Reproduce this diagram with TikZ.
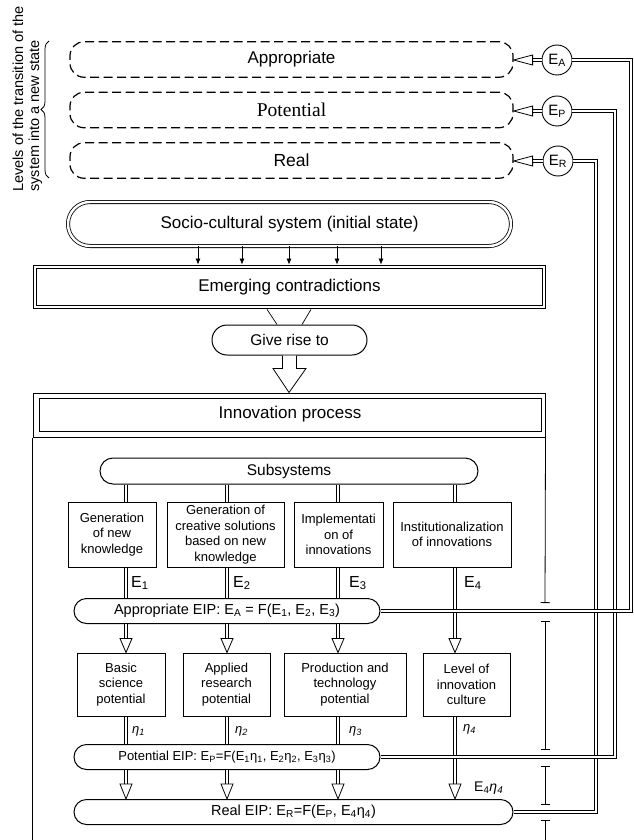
\documentclass[tikz,border=0pt]{standalone}
\usepackage{fontspec}
\setmainfont{Liberation Sans}
\newfontfamily\seriff{Liberation Serif}
\usetikzlibrary{calc,arrows.meta,decorations.pathreplacing}

\newcommand{\holarrow}[4]{%
  \coordinate (hb) at ($(#2)!#3!(#1)$);
  \draw[dbl] (#1) -- (hb);
  \draw[hd] (#2) -- ($(hb)!#4!90:(#2)$) -- ($(hb)!#4!-90:(#2)$) -- cycle;
}

\begin{document}
\begin{tikzpicture}[x=1pt,y=-1pt,
  dsh/.style={draw, line width=1.2pt, dash pattern=on 9pt off 4.5pt, rounded corners=14pt, inner sep=0pt, minimum width=443pt, minimum height=35.5pt},
  circ/.style={draw, circle, line width=0.9pt, minimum size=30pt, inner sep=0pt, font=\fontsize{15}{18}\selectfont},
  dblnode/.style={draw, double, double distance=2.4pt, line width=0.8pt, inner sep=0pt},
  pill/.style={draw, line width=1pt, inner sep=0pt},
  box/.style={draw, line width=1pt, inner sep=0pt, align=center, font=\fontsize{13}{15.5}\selectfont},
  dbl/.style={double, double distance=2.2pt, line width=0.8pt},
  hd/.style={line width=0.8pt, fill=white, line join=miter},
  sarr/.style={line width=0.7pt, -{Latex[length=6pt,width=5pt]}},
  ibeam/.style={line width=0.8pt},
  bigarr/.style={line width=0.8pt, fill=white},
  elbl/.style={anchor=west, inner sep=0pt, font=\fontsize{16}{18}\selectfont},
  etalbl/.style={anchor=west, inner sep=0pt, font=\fontsize{13}{15}\selectfont},
]
\useasboundingbox (0,0) rectangle (634,840);

% ---- levels
\node[dsh] (appr) at (291.5,59.5) {\fontsize{17}{20}\selectfont Appropriate};
\node[dsh] (pot) at (291.5,110) {\seriff\fontsize{19.5}{22}\selectfont Potential};
\node[dsh] (real) at (291.5,160.5) {\fontsize{17.5}{20}\selectfont Real};

\node[circ] (ea) at (557,60) {E\textsubscript{A}};
\node[circ] (ep) at (557,111) {E\textsubscript{P}};
\node[circ] (er) at (558,161) {E\textsubscript{R}};

\draw[line width=0.8pt, decorate, decoration={brace, amplitude=8pt}] (49,178) -- (49,41);
\node[rotate=90, align=left, inner sep=0pt, font=\fontsize{14.5}{16}\selectfont] (lev) at (27.5,99)
  {Levels of the transition of the\\system into a new state};

% ---- top chain
\node[dblnode, minimum width=443pt, minimum height=44pt, rounded corners=22pt] (socio) at (289.5,224)
  {\fontsize{17}{20}\selectfont Socio-cultural system (initial state)};
\node[dblnode, minimum width=509pt, minimum height=40pt] (emer) at (289.5,287)
  {\fontsize{17}{20}\selectfont Emerging contradictions};
\foreach \xx in {198,242,289,337,381}
  \draw[sarr, shorten >=2pt] (\xx,0 |- socio.south) -- (\xx,0 |- emer.north);

\node[pill, minimum width=155pt, minimum height=30pt, rounded corners=15pt] (give) at (289.5,340)
  {\fontsize{15.5}{18}\selectfont Give rise to};
\draw[line width=0.7pt] ($(emer.south)+(-22.5,2)$) -- ($(give.north)+(-12.5,0)$);
\draw[line width=0.7pt] ($(emer.south)+(21.5,2)$) -- ($(give.north)+(12.5,0)$);

% ---- innovation process
\node[draw, line width=1pt, minimum width=512pt, minimum height=44pt, inner sep=0pt] (innoouter) at (289,415) {};
\node[draw, line width=0.6pt, minimum width=502pt, minimum height=33pt, inner sep=0pt] (inno) at (290,414.5)
  {\fontsize{17}{20}\selectfont Innovation process};
\draw[bigarr] ($(give.south)+(-7,0)$) -- ++(0,13) -- ++(-9.5,0) -- (innoouter.north)
  -- ($(give.south)+(16.5,13)$) -- ++(-9.5,0) -- ($(give.south)+(7,0)$);
\draw[line width=0.8pt] (innoouter.south west) -- (innoouter.south west |- 0,840);

\coordinate (t1) at (545,603);
\coordinate (t2) at (545,621);
\coordinate (t3) at (545,750);
\coordinate (t4) at (545,766);
\coordinate (t5) at (545,805);
\coordinate (t6) at (545,820);
\coordinate (t7) at (545,842);
\draw[ibeam, -{Bar[width=9pt]}] (innoouter.south east) -- (t1);
\draw[ibeam, {Bar[width=9pt]}-{Bar[width=9pt]}] (t2) -- (t3);
\draw[ibeam, {Bar[width=9pt]}-{Bar[width=9pt]}] (t4) -- (t5);
\draw[ibeam, {Bar[width=9pt]}-] (t6) -- (t7);

% ---- subsystems
\node[pill, minimum width=378pt, minimum height=26pt, rounded corners=13pt] (sub) at (289,471)
  {\fontsize{15.5}{18}\selectfont Subsystems};

\node[box, minimum width=88pt, minimum height=65pt] (g1) at (112,534.5) {Generation\\of new\\knowledge};
\node[box, minimum width=117pt, minimum height=65pt] (g2) at (225.5,534.5) {Generation of\\creative solutions\\based on new\\knowledge};
\node[box, minimum width=89pt, minimum height=65pt] (g3) at (338.5,534.5) {Implementati\\on of\\innovations};
\node[box, minimum width=118pt, minimum height=65pt] (g4) at (452,534.5) {Institutionalization\\of innovations};

\node[pill, minimum width=306pt, minimum height=25pt, rounded corners=12.5pt] (aeip) at (227,611)
  {\fontsize{14.5}{17}\selectfont Appropriate EIP: E\textsubscript{A} = F(E\textsubscript{1}, E\textsubscript{2}, E\textsubscript{3})};

\node[box, minimum width=88pt, minimum height=63pt] (h1) at (121,684.5) {Basic\\science\\potential};
\node[box, minimum width=87pt, minimum height=63pt] (h2) at (226.5,684.5) {Applied\\research\\potential};
\node[box, minimum width=122pt, minimum height=63pt] (h3) at (345,684.5) {Production and\\technology\\potential};
\node[box, minimum width=87pt, minimum height=63pt] (h4) at (466.5,684.5) {Level of\\innovation\\culture};

\node[pill, minimum width=306pt, minimum height=25pt, rounded corners=12.5pt] (peip) at (227,757)
  {\fontsize{13}{15}\selectfont Potential EIP: E\textsubscript{P}=F(E\textsubscript{1}η\textsubscript{1}, E\textsubscript{2}η\textsubscript{2}, E\textsubscript{3}η\textsubscript{3})};
\node[pill, minimum width=439pt, minimum height=25pt, rounded corners=12.5pt] (reip) at (293.5,812)
  {\fontsize{14.5}{17}\selectfont Real EIP: E\textsubscript{R}=F(E\textsubscript{P}, E\textsubscript{4}η\textsubscript{4})};

% ---- columns
\coordinate (c1) at (126,0);
\coordinate (c2) at (227,0);
\coordinate (c3) at (338,0);
\coordinate (c4) at (455,0);
\foreach \c/\g in {c1/g1,c2/g2,c3/g3,c4/g4}
  \draw[dbl] (sub.south -| \c) -- (\g.north -| \c);
\foreach \c/\g in {c1/g1,c2/g2,c3/g3}
  \draw[dbl] (\g.south -| \c) -- (aeip.north -| \c);
\holarrow{aeip.south -| c1}{h1.north -| c1}{14pt}{6pt}
\holarrow{aeip.south -| c2}{h2.north -| c2}{14pt}{6pt}
\holarrow{aeip.south -| c3}{h3.north -| c3}{14pt}{6pt}
\holarrow{g4.south -| c4}{h4.north -| c4}{14pt}{6pt}
\foreach \c/\h in {c1/h1,c2/h2,c3/h3}
  \draw[dbl] (\h.south -| \c) -- (peip.north -| \c);
\holarrow{peip.south -| c1}{reip.north -| c1}{15pt}{6pt}
\holarrow{peip.south -| c2}{reip.north -| c2}{15pt}{6pt}
\holarrow{peip.south -| c3}{reip.north -| c3}{15pt}{6pt}
\holarrow{h4.south -| c4}{reip.north -| c4}{15pt}{6pt}

% ---- right feedback lines
\coordinate (ra) at (631,0);
\coordinate (rp) at (615,0);
\coordinate (rr) at (596,0);
\draw[dbl] (reip.east) -- (reip.east -| rr) -- (rr |- er.east) -- (er.east);
\draw[dbl] (peip.east) -- (peip.east -| rp) -- (rp |- ep.east) -- (ep.east);
\draw[dbl] (aeip.east) -- (aeip.east -| ra) -- (ra |- ea.east) -- (ea.east);

\holarrow{ea.west}{ea.west -| appr.east}{19pt}{5pt}
\holarrow{ep.west}{ep.west -| pot.east}{19pt}{5pt}
\holarrow{er.west}{er.west -| real.east}{19pt}{5pt}

% ---- labels
\node[elbl] (e1) at (131,583) {E\textsubscript{1}};
\node[elbl] (e2) at (233,583) {E\textsubscript{2}};
\node[elbl] (e3) at (349,583) {E\textsubscript{3}};
\node[elbl] (e4) at (464,583) {E\textsubscript{4}};
\node[etalbl] (n1) at (132,731) {\textit{η}\textsubscript{\textit{1}}};
\node[etalbl] (n2) at (235,731) {\textit{η}\textsubscript{\textit{2}}};
\node[etalbl] (n3) at (349,731) {\textit{η}\textsubscript{\textit{3}}};
\node[etalbl] (n4) at (463,729) {\textit{η}\textsubscript{\textit{4}}};
\node[etalbl, font=\fontsize{14}{16}\selectfont] (e4n4) at (474,788) {E\textsubscript{4}\textit{η}\textsubscript{\textit{4}}};
\end{tikzpicture}
\end{document}
